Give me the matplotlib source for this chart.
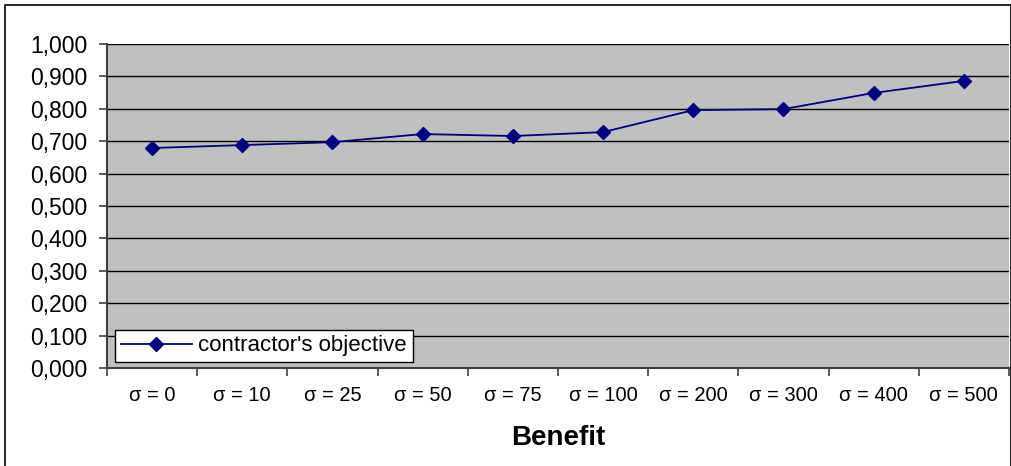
import matplotlib
matplotlib.use("Agg")
import matplotlib.pyplot as plt
from matplotlib.patches import Rectangle
from matplotlib.ticker import FixedLocator, FuncFormatter

# sigma levels and the contractor's objective at each level
categories = ["σ = 0", "σ = 10", "σ = 25", "σ = 50", "σ = 75",
              "σ = 100", "σ = 200", "σ = 300", "σ = 400", "σ = 500"]
objective = [0.679, 0.688, 0.697, 0.722, 0.716,
             0.728, 0.796, 0.799, 0.849, 0.886]
y_ticks = [0.0, 0.1, 0.2, 0.3, 0.4, 0.5, 0.6, 0.7, 0.8, 0.9, 1.0]

plt.rcParams["font.family"] = ["Liberation Sans", "DejaVu Sans"]

fig = plt.figure(figsize=(10.12, 4.66), dpi=100)
ax = fig.add_axes([0.1057, 0.2103, 0.8913, 0.6953])
ax.set_facecolor("#C0C0C0")

x = list(range(len(categories)))
ax.plot(x, objective, color="#000080", marker="D", markersize=7,
        linewidth=1.3, label="contractor's objective", zorder=3)

ax.set_xlim(-0.5, len(categories) - 0.5)
ax.set_ylim(0, 1.0)
ax.set_yticks(y_ticks)
ax.yaxis.set_major_formatter(FuncFormatter(lambda v, p: f"{v:.3f}".replace(".", ",")))
ax.grid(axis="y", color="black", linewidth=1.0)
ax.set_axisbelow(True)

ax.set_xticks(x)
ax.set_xticklabels(categories)
ax.xaxis.set_minor_locator(FixedLocator([i + 0.5 for i in range(-1, len(categories))]))
ax.tick_params(axis="x", which="major", length=0, pad=13, labelsize=14.5)
ax.tick_params(axis="x", which="minor", length=6, width=1.2, color="#404040")
ax.tick_params(axis="y", length=6, width=1.2, color="#404040", pad=8, labelsize=16.5)

for side in ["top", "right"]:
    ax.spines[side].set_visible(False)
ax.spines["left"].set_color("#404040")
ax.spines["left"].set_linewidth(1.5)
ax.spines["bottom"].set_color("#404040")
ax.spines["bottom"].set_linewidth(1.5)

ax.set_xlabel("Benefit", fontsize=20, fontweight="bold", labelpad=14)

leg = ax.legend(loc="lower left", bbox_to_anchor=(0.004, 0.005), fontsize=16,
                frameon=True, fancybox=False, borderpad=0.25, handlelength=3.2,
                handletextpad=0.3, borderaxespad=0.2)
leg.get_frame().set_edgecolor("black")
leg.get_frame().set_facecolor("white")
leg.get_frame().set_alpha(1.0)
leg.get_frame().set_linewidth(1.0)

# outer chart frame
fig.patches.append(Rectangle((0.005, -0.01), 0.994, 1.0, transform=fig.transFigure,
                             fill=False, edgecolor="black", linewidth=1.2))

fig.savefig("out.png", dpi=100)
